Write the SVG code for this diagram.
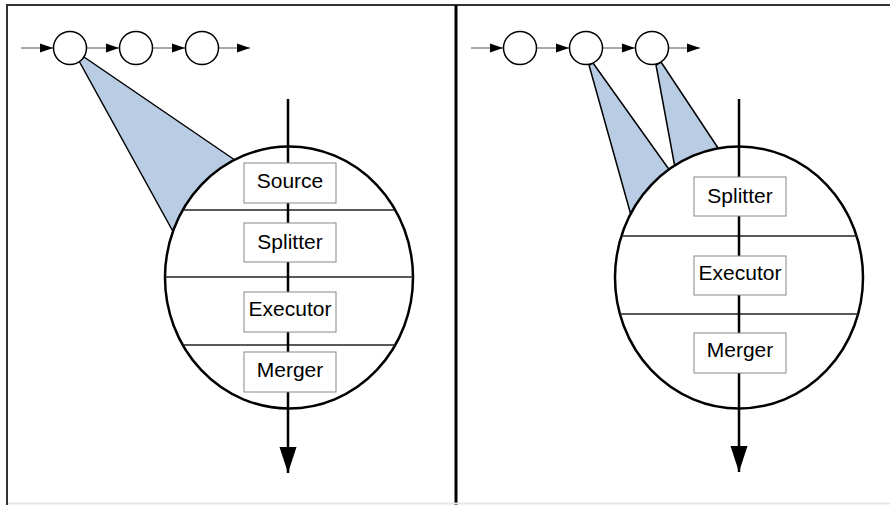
<svg xmlns="http://www.w3.org/2000/svg" width="890" height="505" viewBox="0 0 890 505">
<style>
.frame{stroke:#333;stroke-width:2;fill:none}
.wedge{fill:#b8cce4;stroke:#000;stroke-width:1.5;stroke-linejoin:round}
.ring{fill:#fff;stroke:#000;stroke-width:1.5}
.chain{stroke:#555;stroke-width:1;fill:none;marker-end:url(#small)}
.body{fill:#fff;stroke:#000;stroke-width:2.5}
.div{stroke:#222;stroke-width:1.5}
.flow{stroke:#000;stroke-width:2.5;fill:none;marker-end:url(#big)}
.box{fill:#fff;stroke:#888;stroke-width:1}
.lbl{font-family:"Liberation Sans",Arial,sans-serif;font-size:21px;fill:#000;text-anchor:middle}
</style>
<defs>
<marker id="small" markerUnits="userSpaceOnUse" markerWidth="14" markerHeight="10" refX="13" refY="5" orient="auto">
<path d="M0,0.5 L13,5 L0,9.5 Z" fill="#000"/>
</marker>
<marker id="big" markerUnits="userSpaceOnUse" markerWidth="27" markerHeight="18" refX="26" refY="9" orient="auto" viewBox="0 0 27 18">
<path d="M0,0.5 L26,9 L0,17.5 Z" fill="#000"/>
</marker>
</defs>
<rect x="0" y="0" width="890" height="505" fill="#fff"/>
<g id="frame">
<line class="frame" x1="7" y1="5" x2="890" y2="5"/>
<line class="frame" x1="7" y1="4" x2="7" y2="505"/>
<line x1="456" y1="5" x2="456" y2="505" stroke="#000" stroke-width="3"/>
<line x1="8" y1="503.5" x2="890" y2="503.5" stroke="#e6e6e6" stroke-width="2"/>
</g>
<g id="wedges">
<polygon class="wedge" points="79,61 84,57 248,169 181,246"/>
<polygon class="wedge" points="589,65 593,63 675.5,178.5 634,226"/>
<polygon class="wedge" points="656,65 661,62 724,157 676,173"/>
</g>
<g id="connectors">
<line class="chain" x1="21" y1="48" x2="53" y2="48"/>
<line class="chain" x1="87" y1="48" x2="119" y2="48"/>
<line class="chain" x1="153" y1="48" x2="185" y2="48"/>
<line class="chain" x1="219" y1="48" x2="250" y2="48"/>
<line class="chain" x1="471" y1="48" x2="503" y2="48"/>
<line class="chain" x1="537" y1="48" x2="569" y2="48"/>
<line class="chain" x1="603" y1="48" x2="635" y2="48"/>
<line class="chain" x1="669" y1="48" x2="700" y2="48"/>
</g>
<g id="q1"><circle class="ring" cx="70" cy="48" r="16.5"/></g>
<g id="q2"><circle class="ring" cx="136" cy="48" r="16.5"/></g>
<g id="q3"><circle class="ring" cx="202" cy="48" r="16.5"/></g>
<g id="r1"><circle class="ring" cx="520" cy="48" r="16.5"/></g>
<g id="r2"><circle class="ring" cx="586" cy="48" r="16.5"/></g>
<g id="r3"><circle class="ring" cx="652" cy="48" r="16.5"/></g>
<g id="left-stage">
<ellipse class="body" cx="289" cy="277.5" rx="124" ry="131"/>
<line class="div" x1="183" y1="210" x2="395" y2="210"/>
<line class="div" x1="165" y1="277" x2="413" y2="277"/>
<line class="div" x1="183" y1="345" x2="395" y2="345"/>
</g>
<g id="right-stage">
<ellipse class="body" cx="739" cy="277.5" rx="124" ry="131"/>
<line class="div" x1="621" y1="236" x2="857" y2="236"/>
<line class="div" x1="620" y1="314" x2="858" y2="314"/>
</g>
<g id="flows">
<line class="flow" x1="288" y1="99" x2="288" y2="473"/>
<line class="flow" x1="739" y1="99" x2="739" y2="472"/>
</g>
<g id="source-l"><rect class="box" x="244" y="163" width="92" height="40"/><text class="lbl" x="290" y="188">Source</text></g>
<g id="splitter-l"><rect class="box" x="244" y="223" width="92" height="39"/><text class="lbl" x="290" y="249">Splitter</text></g>
<g id="executor-l"><rect class="box" x="244" y="292" width="92" height="40"/><text class="lbl" x="290" y="316">Executor</text></g>
<g id="merger-l"><rect class="box" x="244" y="352" width="92" height="40"/><text class="lbl" x="290" y="377">Merger</text></g>
<g id="splitter-r"><rect class="box" x="694" y="177" width="92" height="39"/><text class="lbl" x="740" y="203">Splitter</text></g>
<g id="executor-r"><rect class="box" x="694" y="256" width="92" height="39"/><text class="lbl" x="740" y="280">Executor</text></g>
<g id="merger-r"><rect class="box" x="694" y="333" width="92" height="40"/><text class="lbl" x="740" y="357">Merger</text></g>
</svg>
